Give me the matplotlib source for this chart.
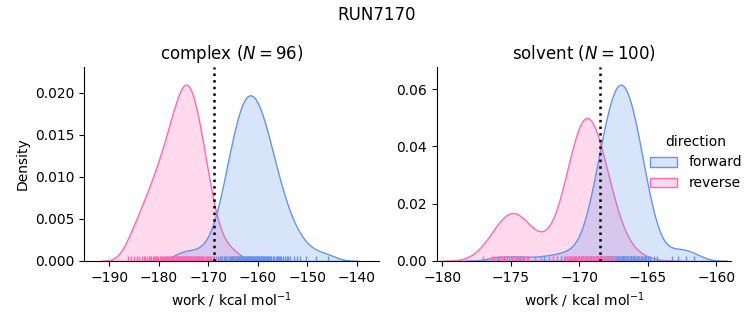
import matplotlib
matplotlib.use("Agg")
import matplotlib.pyplot as plt
import numpy as np
import pandas as pd
import seaborn as sns

run_name = "RUN7170"
phases = ["complex", "solvent"]
directions = ["forward", "reverse"]
colors = {"forward": "cornflowerblue", "reverse": "hotpink"}

# work values (kcal/mol)
complex_forward = [
    -175.6, -174.2, -171.8, -170.2,
    -168.8, -168.1, -167.6, -167.2, -166.9, -166.7,
    -166.4, -166.2, -165.9, -165.7, -165.5, -165.3, -165.2, -165.1, -164.9, -164.8,
    -164.6, -164.4, -164.3, -164.1, -164.0, -163.8, -163.6, -163.5, -163.4, -163.3,
    -163.2, -163.1, -163.0, -162.9,
    -162.7, -162.6, -162.5, -162.4, -162.2, -162.1, -162.0, -161.9, -161.8, -161.7,
    -161.6, -161.5, -161.4, -161.2, -161.1, -161.0,
    -160.8, -160.7, -160.5, -160.4, -160.3, -160.2, -160.1, -159.9, -159.8, -159.7,
    -159.6, -159.4, -159.3, -159.2, -159.1,
    -158.9, -158.8, -158.7, -158.5, -158.4, -158.2, -158.0, -157.9, -157.7, -157.6,
    -157.4, -157.3,
    -157.0, -156.7, -156.4, -156.2, -156.0, -155.8, -155.6, -155.4,
    -155.0, -154.6, -154.2, -154.0, -153.6,
    -152.6, -152.0, -151.4, -150.3, -148.2, -145.8,
]
complex_reverse = [
    -186.2, -185.5, -184.9, -184.3,
    -183.9, -183.4, -183.0, -182.8, -182.4,
    -182.0, -181.8, -181.5, -181.2, -180.9, -180.7, -180.5,
    -180.3, -180.1, -179.8, -179.6, -179.4, -179.2, -179.0, -178.8, -178.6,
    -178.4, -178.3, -178.1, -178.0, -177.8, -177.6, -177.5, -177.3, -177.2, -177.1,
    -176.9, -176.8,
    -176.6, -176.5, -176.3, -176.2, -176.1, -176.0, -175.9, -175.7, -175.6, -175.5,
    -175.3, -175.2, -175.1, -175.0, -174.9,
    -174.8, -174.7, -174.6, -174.5, -174.4, -174.3, -174.2, -174.1, -174.0, -173.8,
    -173.7, -173.7, -173.6, -173.5, -173.4, -173.2, -173.1,
    -172.9, -172.8, -172.6, -172.6, -172.5, -172.3, -172.2, -172.0, -171.9, -171.8,
    -171.6, -171.5, -171.4, -171.3,
    -171.0, -170.8, -170.5, -170.3, -170.1, -169.9, -169.6, -169.4,
    -169.1, -168.5, -167.4, -166.2, -164.6,
]
solvent_forward = [
    -175.9, -174.3, -172.6, -171.3, -170.7,
    -169.7, -169.5, -169.3, -169.1,
    -168.9, -168.9, -168.8, -168.7, -168.6, -168.6, -168.5, -168.4, -168.4, -168.3,
    -168.2, -168.2, -168.1, -168.1, -168.0, -168.0, -167.9, -167.9, -167.9, -167.8,
    -167.8, -167.8, -167.7, -167.7, -167.6, -167.6, -167.5, -167.5, -167.4, -167.4,
    -167.3, -167.3, -167.3, -167.3, -167.2, -167.2, -167.2, -167.1, -167.1, -167.0,
    -167.0, -167.0, -166.9, -166.9, -166.9, -166.8, -166.8, -166.8, -166.7, -166.7,
    -166.7, -166.6, -166.6, -166.6,
    -166.5, -166.5, -166.4, -166.4, -166.3, -166.3, -166.2, -166.2, -166.2, -166.1,
    -166.1, -166.1, -166.0, -166.0, -165.9, -165.9, -165.8, -165.8, -165.7, -165.7,
    -165.6, -165.6, -165.5, -165.4, -165.3, -165.3, -165.2, -165.1, -165.0, -165.0,
    -164.8, -164.5, -164.3, -163.2, -162.8, -162.2, -161.6,
]
solvent_reverse = [
    -177.0, -176.4, -176.2, -176.0,
    -175.8, -175.6, -175.5, -175.4, -175.3,
    -175.1, -175.0, -174.9, -174.8, -174.7, -174.6, -174.5, -174.4,
    -174.2, -174.1, -174.0, -173.8, -173.7,
    -173.2, -172.8, -172.2, -171.9, -171.6,
    -171.1, -171.0, -170.9, -170.9, -170.8, -170.7, -170.6, -170.5, -170.5, -170.4,
    -170.4,
    -170.3, -170.3, -170.2, -170.2, -170.1, -170.1, -170.0, -170.0, -170.0, -169.9,
    -169.9, -169.9, -169.8, -169.8, -169.8, -169.7, -169.7, -169.7,
    -169.6, -169.6, -169.5, -169.5, -169.5, -169.4, -169.4, -169.4, -169.3, -169.3,
    -169.2, -169.2, -169.1, -169.1, -169.1, -169.0, -169.0, -169.0, -168.9,
    -168.9, -168.8, -168.8, -168.7, -168.7, -168.6, -168.5, -168.5, -168.4, -168.4,
    -168.3, -168.3, -168.3, -168.2,
    -168.1, -168.0, -167.9, -167.8, -167.7, -167.6, -167.5,
    -167.4, -167.1, -166.5, -165.6,
]

# free energy estimate per phase (dotted line)
delta_g = {"complex": -168.9, "solvent": -168.45}
xlims = {"complex": (-195.0, -135.6), "solvent": (-180.4, -158.9)}

works = {
    ("complex", "forward"): complex_forward,
    ("complex", "reverse"): complex_reverse,
    ("solvent", "forward"): solvent_forward,
    ("solvent", "reverse"): solvent_reverse,
}

frames = []
for (phase, direction), w in works.items():
    frames.append(pd.DataFrame({"phase": phase, "direction": direction, "work": w}))
df = pd.concat(frames, ignore_index=True)

g = sns.displot(
    data=df,
    x="work",
    hue="direction",
    col="phase",
    kind="kde",
    fill=True,
    rug=True,
    palette=colors,
    hue_order=directions,
    col_order=phases,
    facet_kws=dict(sharex=False, sharey=False),
)

for ax, phase in zip(g.axes.flat, phases):
    n = len(df[(df.phase == phase) & (df.direction == "forward")])
    ax.set_title(f"{phase} ($N={n}$)")
    ax.axvline(delta_g[phase], color="k", linestyle=":", linewidth=1.8)
    ax.set_xlim(*xlims[phase])
    ax.set_xlabel("work / kcal mol$^{-1}$")

g.figure.suptitle(run_name)
g.figure.set_size_inches(7.53, 3.25)
g.figure.subplots_adjust(left=0.112, right=0.971, bottom=0.197, top=0.794, wspace=0.197)
sns.move_legend(g, "center left", bbox_to_anchor=(0.846, 0.5), frameon=False)

g.figure.savefig("out.png", dpi=100)
